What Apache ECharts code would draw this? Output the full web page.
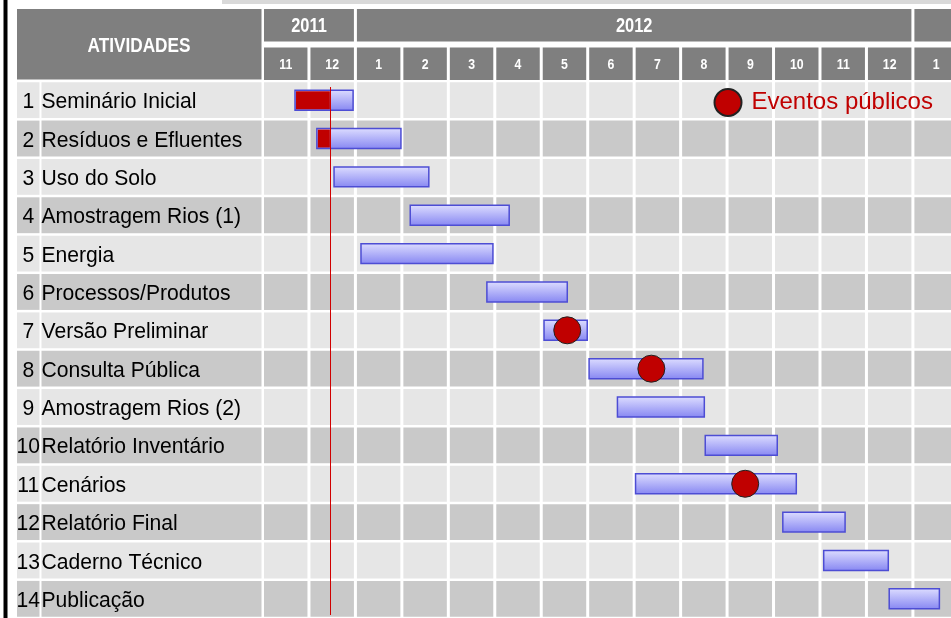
<!DOCTYPE html>
<html>
<head>
<meta charset="utf-8">
<script src="https://cdn.jsdelivr.net/npm/echarts@6/dist/echarts.min.js"></script>
<style>
  html, body { margin: 0; padding: 0; background: #ffffff; }
  #chart { width: 951px; height: 618px; }
</style>
</head>
<body>
<div id="chart"></div>
<script>
// Project schedule. Times are in months counted from the start of November 2011.
const monthLabels = ['11', '12', '1', '2', '3', '4', '5', '6', '7', '8', '9', '10', '11', '12', '1'];
const yearLabels = ['2011', '2012', '2013'];
const yearMonths = [2, 12, 12];

const activities = [
  'Seminário Inicial', 'Resíduos e Efluentes', 'Uso do Solo', 'Amostragem Rios (1)',
  'Energia', 'Processos/Produtos', 'Versão Preliminar', 'Consulta Pública',
  'Amostragem Rios (2)', 'Relatório Inventário', 'Cenários', 'Relatório Final',
  'Caderno Técnico', 'Publicação'
];
const startMonth = [0.70, 1.17, 1.54, 3.18, 2.12, 4.83, 6.06, 7.03, 7.64, 9.53, 8.03, 11.20, 12.08, 13.49];
const endMonth   = [1.95, 2.98, 3.58, 5.31, 4.96, 6.56, 6.99, 9.48, 9.51, 11.08, 11.49, 12.54, 13.47, 14.57];

const eventLabel = 'Eventos públicos';
const eventRow = [6, 7, 10];
const eventMonth = [6.56, 8.37, 10.39];

const todayMonth = 1.45;

const FONT = "'Liberation Sans', Arial, sans-serif";
const NARROW = 0.82;          // horizontal squeeze for the condensed header lettering
const ROW_SQUEEZE = 0.96;     // slight squeeze for the activity names
const LIGHT = '#e6e6e6';
const DARK = '#c9c9c9';
const HEAD = '#7f7f7f';
const RED = '#c00000';
const X_MAX = 14.82;

const chart = echarts.init(document.getElementById('chart'), null, { renderer: 'canvas' });

// Year cells: [first month, last month, label]
const yearData = [];
let acc = 0;
yearLabels.forEach((y, i) => { yearData.push([acc, acc + yearMonths[i], y]); acc += yearMonths[i]; });

function headText(text, x, y, size) {
  return {
    type: 'text', x, y, scaleX: NARROW,
    style: { text, x: 0, y: 0, align: 'center', verticalAlign: 'middle', fill: '#ffffff',
      font: 'bold ' + size + 'px ' + FONT }
  };
}

function rowText(text, x, y, align) {
  return {
    type: 'text', x, y, scaleX: ROW_SQUEEZE,
    style: { text, x: 0, y: 0, align, verticalAlign: 'middle', fill: '#000000', font: '22px ' + FONT }
  };
}

function renderYear(params, api) {
  const x1 = api.coord([api.value(0), 0])[0] + 1.5;
  const x2 = api.coord([api.value(1), 0])[0] - 1.5;
  const yTop = api.coord([0, 0])[1];
  const yMid = api.coord([0, 1])[1];
  return {
    type: 'group',
    children: [
      { type: 'rect', shape: { x: x1, y: yTop, width: x2 - x1, height: yMid - yTop - 3 }, style: { fill: HEAD } },
      headText(yearData[params.dataIndex][2], (x1 + x2) / 2, yTop + 17.5, 20)
    ]
  };
}

function renderMonth(params, api) {
  const i = api.value(0);
  const x1 = api.coord([i, 0])[0] + 1.5;
  const x2 = api.coord([i + 1, 0])[0] - 1.5;
  const yMid = api.coord([0, 1])[1] + 3;
  const yBot = api.coord([0, 2])[1];
  return {
    type: 'group',
    children: [
      { type: 'rect', shape: { x: x1, y: yMid, width: x2 - x1, height: yBot - yMid }, style: { fill: HEAD } },
      headText(monthLabels[i], (x1 + x2) / 2, yMid + 17.5, 15)
    ]
  };
}

// One table row: number cell, name cell and one cell per month
function renderRow(params, api) {
  const row = api.value(1);
  const cs = params.coordSys;
  const c = api.coord([0, row]);
  const band = api.size([0, 1])[1];
  const y0 = c[1] - band / 2 + 1.25;
  const h = band - 2.5;
  const fill = row % 2 ? DARK : LIGHT;
  const children = [
    { type: 'rect', shape: { x: 17, y: y0, width: 22.5, height: h }, style: { fill } },
    { type: 'rect', shape: { x: 41.5, y: y0, width: cs.x - 1 - 41.5, height: h }, style: { fill } }
  ];
  for (let i = 0; i < monthLabels.length; i++) {
    const x1 = api.coord([i, row])[0] + 1.5;
    const x2 = api.coord([i + 1, row])[0] - 1.5;
    children.push({ type: 'rect', shape: { x: x1, y: y0, width: x2 - x1, height: h }, style: { fill } });
  }
  children.push(rowText(String(row + 1), 28.25, c[1] + 2, 'center'));
  children.push(rowText(activities[row], 41.5, c[1] + 2, 'left'));
  return { type: 'group', children };
}

// Activity bar, with the elapsed part up to today filled in red
function renderBar(params, api) {
  const s = api.value(0), e = api.value(1), row = api.value(2);
  const p1 = api.coord([s, row]);
  const p2 = api.coord([e, row]);
  const band = api.size([0, 1])[1];
  const bh = band * 0.52;
  const y = p1[1] - bh / 2;
  const children = [{
    type: 'rect',
    shape: { x: p1[0], y, width: p2[0] - p1[0], height: bh },
    style: {
      fill: new echarts.graphic.LinearGradient(0, 0, 0, 1, [
        { offset: 0, color: '#dedeff' }, { offset: 1, color: '#8686f2' }
      ]),
      stroke: '#4d4dd4', lineWidth: 1.5
    }
  }];
  if (s < todayMonth) {
    const pt = api.coord([Math.min(e, todayMonth), row]);
    children.push({ type: 'rect', shape: { x: p1[0] + 1, y: y + 1, width: pt[0] - p1[0] - 1, height: bh - 2 },
      style: { fill: RED } });
  }
  return { type: 'group', children };
}

function renderToday(params, api) {
  const cs = params.coordSys;
  const x = Math.round(api.coord([api.value(0), 0])[0]) + 0.5;
  return { type: 'line', shape: { x1: x, y1: cs.y + 6, x2: x, y2: cs.y + cs.height - 3 },
    style: { stroke: '#d00000', lineWidth: 1 } };
}

const option = {
  animation: false,
  backgroundColor: '#ffffff',
  legend: {
    data: [eventLabel],
    left: 708.5, top: 83,
    itemWidth: 27, itemHeight: 27,
    icon: 'circle',
    textStyle: { color: RED, fontSize: 24, fontFamily: FONT, padding: [0, 0, 0, 5] }
  },
  grid: [
    { left: 262.5, right: 0, top: 81, height: 537 },
    { left: 262.5, right: 0, top: 9, height: 71 }
  ],
  xAxis: [
    { type: 'value', gridIndex: 0, min: 0, max: X_MAX, show: false },
    { type: 'value', gridIndex: 1, min: 0, max: X_MAX, show: false }
  ],
  yAxis: [
    { type: 'category', gridIndex: 0, data: activities, inverse: true, show: false },
    { type: 'value', gridIndex: 1, min: 0, max: 2, inverse: true, show: false }
  ],
  graphic: [
    { type: 'rect', shape: { x: 222, y: 0, width: 729, height: 4 }, style: { fill: '#d9d9d9' }, z: 100 },
    { type: 'rect', shape: { x: 3.5, y: 0, width: 4, height: 618 }, style: { fill: '#000000' }, z: 100 },
    { type: 'rect', shape: { x: 17, y: 9, width: 244.5, height: 70.5 }, style: { fill: HEAD }, z: 100 },
    { type: 'text', x: 139, y: 46.5, scaleX: NARROW, style: { text: 'ATIVIDADES', x: 0, y: 0, align: 'center',
      verticalAlign: 'middle', fill: '#ffffff', font: 'bold 21px ' + FONT }, z: 101 }
  ],
  series: [
    { type: 'custom', name: 'years', xAxisIndex: 1, yAxisIndex: 1, renderItem: renderYear,
      data: yearData.map(d => [d[0], d[1]]), encode: { x: [0, 1] }, silent: true, z: 1 },
    { type: 'custom', name: 'months', xAxisIndex: 1, yAxisIndex: 1, renderItem: renderMonth,
      data: monthLabels.map((m, i) => [i]), encode: { x: 0 }, silent: true, z: 1 },
    { type: 'custom', name: 'rows', renderItem: renderRow,
      data: activities.map((a, i) => [0, i]), encode: { x: 0, y: 1 }, silent: true, z: 1 },
    { type: 'custom', name: 'tasks', renderItem: renderBar,
      data: activities.map((a, i) => [startMonth[i], endMonth[i], i]), encode: { x: [0, 1], y: 2 }, z: 3 },
    { type: 'custom', name: 'today', renderItem: renderToday,
      data: [[todayMonth, 0]], encode: { x: 0, y: 1 }, silent: true, z: 4 },
    { type: 'scatter', name: eventLabel, symbol: 'circle', symbolSize: 27,
      data: eventMonth.map((m, k) => [m, eventRow[k]]),
      itemStyle: { color: RED, borderColor: '#222222', borderWidth: 1, opacity: 1 }, z: 5 }
  ]
};

chart.setOption(option);
</script>
</body>
</html>
